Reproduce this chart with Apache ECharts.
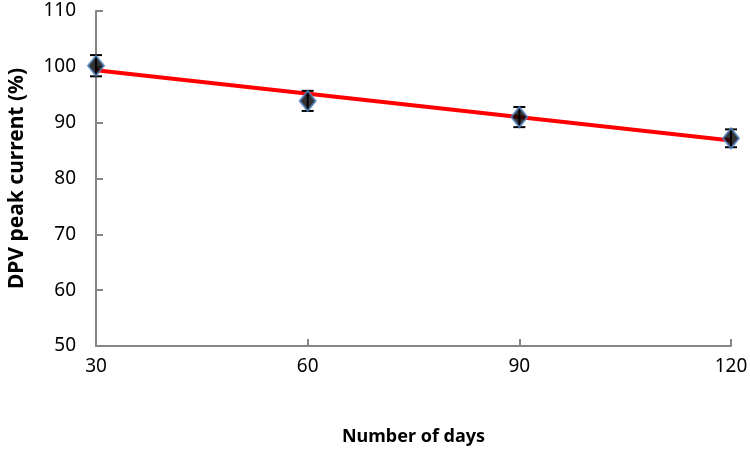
<!DOCTYPE html>
<html>
<head>
<meta charset="utf-8">
<script src="https://cdn.jsdelivr.net/npm/echarts@6/dist/echarts.min.js"></script>
<style>
  html, body { margin: 0; padding: 0; background: #fff; }
  #main { width: 750px; height: 453px; }
</style>
</head>
<body>
<div id="main"></div>
<script>
// 数据
var days = [30, 60, 90, 120];
var peakCurrent = [100.2, 93.9, 91.0, 87.2];
var errors = [1.9, 1.8, 1.8, 1.6];
var trendDays = [30, 120];
var trendValues = [99.4, 86.8];

var chart = echarts.init(document.getElementById('main'));

var pointData = days.map(function (d, i) { return [d, peakCurrent[i]]; });
var errData = days.map(function (d, i) {
  return [d, peakCurrent[i] - errors[i], peakCurrent[i] + errors[i]];
});
var trendData = trendDays.map(function (d, i) { return [d, trendValues[i]]; });

var axisColor = '#868686';
var font = 'Noto Sans';

var option = {
  backgroundColor: '#fff',
  animation: false,
  grid: { left: 96, right: 19, top: 11, bottom: 107, outerBoundsMode: 'none', containLabel: false },
  xAxis: {
    type: 'value',
    min: 30, max: 120, interval: 30,
    name: 'Number of days',
    nameLocation: 'middle',
    nameGap: 82,
    nameTextStyle: { fontFamily: font, fontSize: 18, fontWeight: 'bold', color: '#000' },
    axisLine: { lineStyle: { color: axisColor, width: 2 } },
    axisTick: { show: true, inside: true, length: 7, lineStyle: { color: axisColor, width: 2 } },
    axisLabel: { fontFamily: font, fontSize: 19, color: '#000', margin: 11 },
    splitLine: { show: false }
  },
  yAxis: {
    type: 'value',
    min: 50, max: 110, interval: 10,
    name: 'DPV peak current (%)',
    nameLocation: 'middle',
    nameGap: 68,
    nameTextStyle: { fontFamily: font, fontSize: 21, fontWeight: 'bold', color: '#000' },
    axisLine: { show: true, lineStyle: { color: axisColor, width: 2 } },
    axisTick: { show: true, inside: true, length: 7, lineStyle: { color: axisColor, width: 2 } },
    axisLabel: { fontFamily: font, fontSize: 19, color: '#000', margin: 20 },
    splitLine: { show: false }
  },
  series: [
    {
      // 趋势线
      name: 'trend',
      type: 'line',
      data: trendData,
      symbol: 'none',
      lineStyle: { color: '#ff0000', width: 4 },
      z: 3
    },
    {
      // 误差线
      name: 'error',
      type: 'custom',
      data: errData,
      renderItem: function (params, api) {
        var x = api.value(0);
        var lo = api.coord([x, api.value(1)]);
        var hi = api.coord([x, api.value(2)]);
        var half = 6;
        var style = { stroke: '#000', lineWidth: 2 };
        return {
          type: 'group',
          children: [
            { type: 'line', shape: { x1: lo[0], y1: lo[1], x2: hi[0], y2: hi[1] }, style: style },
            { type: 'line', shape: { x1: lo[0] - half, y1: lo[1], x2: lo[0] + half, y2: lo[1] }, style: style },
            { type: 'line', shape: { x1: hi[0] - half, y1: hi[1], x2: hi[0] + half, y2: hi[1] }, style: style }
          ]
        };
      },
      z: 4
    },
    {
      // 数据点
      name: 'data',
      type: 'scatter',
      data: pointData,
      symbol: 'diamond',
      symbolSize: [16, 20],
      itemStyle: { color: '#000', borderColor: '#4f81bd', borderWidth: 2 },
      z: 5
    }
  ]
};

chart.setOption(option);
</script>
</body>
</html>
